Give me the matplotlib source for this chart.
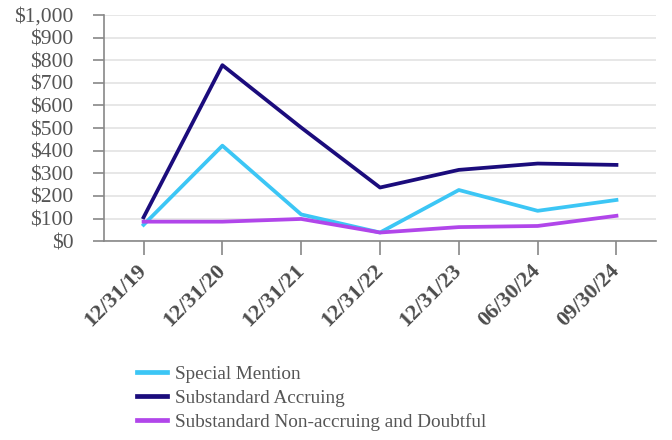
import numpy as np
import matplotlib.pyplot as plt
from matplotlib.ticker import FuncFormatter
from matplotlib.transforms import ScaledTranslation

# quarter-end dates on the x axis
dates = ['12/31/19', '12/31/20', '12/31/21', '12/31/22', '12/31/23', '06/30/24', '09/30/24']

# balances in $ millions
special_mention = [72, 422, 118, 38, 226, 134, 182]
substandard_accruing = [105, 778, 502, 237, 315, 343, 337]
non_accruing_doubtful = [86, 86, 98, 38, 62, 67, 112]

plt.rcParams['font.family'] = ['Liberation Serif', 'DejaVu Serif']

fig = plt.figure(figsize=(6.72, 4.4), dpi=100)
ax = fig.add_axes([0.155, 0.452, 0.821, 0.514])

x = np.arange(len(dates))
ax.plot(x, special_mention, color='#3cc6f5', lw=2.7, label='Special Mention', zorder=3)
ax.plot(x, substandard_accruing, color='#1b0c7c', lw=2.7, label='Substandard Accruing', zorder=3)
ax.plot(x, non_accruing_doubtful, color='#b146ea', lw=2.7, label='Substandard Non-accruing and Doubtful', zorder=3)

ax.set_xlim(-0.5, len(dates) - 0.5)
ax.set_ylim(0, 1000)
ax.set_yticks(np.arange(0, 1001, 100))
ax.yaxis.set_major_formatter(FuncFormatter(lambda v, p: '${:,.0f}'.format(v)))
ax.grid(axis='y', color='#e3e3e3', lw=1.2, zorder=0)

ax.tick_params(axis='y', labelsize=15.5, labelcolor='#555555', color='#888888',
               length=8, width=1.2, pad=14)
ax.tick_params(axis='x', color='#888888', length=10, width=1.2, pad=4)
ax.set_xticks(x)
ax.set_xticklabels(dates, rotation=45, ha='right', va='top', rotation_mode='anchor',
                   fontweight='bold', fontsize=16, color='#4d4d4d')
# nudge the date labels left so they end right under their ticks
shift = ScaledTranslation(-7 / 100, 0, fig.dpi_scale_trans)
for lab in ax.get_xticklabels():
    lab.set_transform(lab.get_transform() + shift)

for side in ['top', 'right']:
    ax.spines[side].set_visible(False)
for side in ['left', 'bottom']:
    ax.spines[side].set_color('#888888')
    ax.spines[side].set_linewidth(1.2)

leg = fig.legend(loc='upper left', bbox_to_anchor=(0.192, 0.187), frameon=False,
                 fontsize=13.8, handlelength=1.6, handletextpad=0.4,
                 labelspacing=0.34, borderaxespad=0)
for line in leg.get_lines():
    line.set_linewidth(3.4)
for t in leg.get_texts():
    t.set_color('#555555')

plt.savefig('out.png', dpi=100)
